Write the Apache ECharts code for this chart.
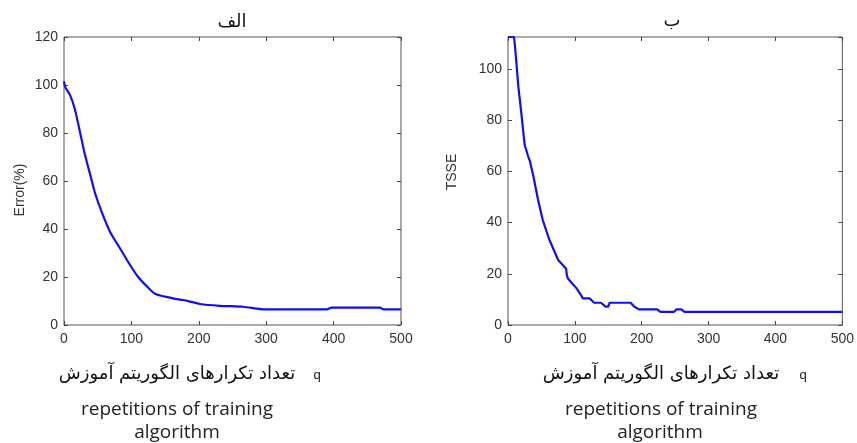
<!DOCTYPE html>
<html>
<head>
<meta charset="utf-8">
<script src="https://cdn.jsdelivr.net/npm/echarts@6/dist/echarts.min.js"></script>
<style>html,body{margin:0;padding:0;background:#fff;}#c{width:857px;height:443px;}</style>
</head>
<body>
<div id="c"></div>
<script>
// Panel A (الف): Error(%) vs repetitions
var iterA = [0, 2, 9, 16, 24, 31, 39, 46, 56, 68, 83, 98, 110, 125, 135, 150, 165, 177, 202, 231, 266, 298, 325, 390, 397, 469, 474, 500];
var errorA = [101.5, 99, 95.8, 90, 80, 71, 62.5, 55, 47, 39, 32, 25, 20, 15.5, 13, 11.8, 10.9, 10.4, 8.75, 8, 7.6, 6.5, 6.5, 6.5, 7.2, 7.2, 6.5, 6.5];
// Panel B (ب): TSSE vs repetitions
var iterB = [0, 9, 10.5, 13, 15.5, 19, 22, 25, 30, 33, 38, 45, 52, 62, 75, 87, 88, 89.5, 95, 102, 108, 112, 122, 129, 139, 146, 150, 152, 183.5, 188.5, 196, 223, 228, 248, 252, 259, 264, 500];
var tsseB = [112.5, 112.5, 108.7, 101, 93, 85, 77.5, 70.3, 66, 63.8, 58, 48.8, 41, 33.2, 25.4, 22, 19.5, 18.2, 16.5, 14.5, 12.2, 10.4, 10.4, 8.7, 8.7, 7.2, 7.2, 8.7, 8.7, 7.2, 6.1, 6.1, 5.1, 5.1, 6.1, 6.1, 5.1, 5.1];
var xTicks = [0, 100, 200, 300, 400, 500];
var yTicksA = [0, 20, 40, 60, 80, 100, 120];
var yTicksB = [0, 20, 40, 60, 80, 100];
var titleA = 'الف';
var titleB = 'ب';
var yNameA = 'Error(%)';
var yNameB = 'TSSE';
var captionFa = 'تعداد تکرارهای الگوریتم آموزش';
var captionMark = 'q';
var captionEn1 = 'repetitions of training';
var captionEn2 = 'algorithm';

function pairs(xs, ys) { return xs.map(function (x, i) { return [x, ys[i]]; }); }

var labelStyle = { color: '#333', fontSize: 14, fontFamily: 'Liberation Sans, Arial, sans-serif' };
var tick = { show: true, inside: true, length: 4, lineStyle: { color: '#444' } };

function xAx(gi, pos, showLabel) {
  return {
    type: 'value', gridIndex: gi, position: pos, min: 0, max: 500, interval: 100,
    axisLine: { show: false, onZero: false }, axisTick: tick, splitLine: { show: false },
    axisLabel: Object.assign({ show: showLabel, margin: 7 }, labelStyle)
  };
}
function yAx(gi, pos, max, showLabel) {
  return {
    type: 'value', gridIndex: gi, position: pos, min: 0, max: max, interval: 20,
    axisLine: { show: false, onZero: false }, axisTick: tick, splitLine: { show: false },
    axisLabel: Object.assign({ show: showLabel, margin: 6, showMaxLabel: max === 120 }, labelStyle)
  };
}

var chart = echarts.init(document.getElementById('c'));
chart.setOption({
  backgroundColor: '#fff',
  animation: false,
  grid: [
    { left: 64, top: 37, width: 337, height: 288, show: true, borderColor: '#555', borderWidth: 1, backgroundColor: 'transparent' },
    { left: 508, top: 37, width: 337, height: 288, show: true, borderColor: '#555', borderWidth: 1, backgroundColor: 'transparent' }
  ],
  xAxis: [xAx(0, 'bottom', true), xAx(0, 'top', false), xAx(1, 'bottom', true), xAx(1, 'top', false)],
  yAxis: [yAx(0, 'left', 120, true), yAx(0, 'right', 120, false), yAx(1, 'left', 112.5, true), yAx(1, 'right', 112.5, false)],
  series: [
    { type: 'line', xAxisIndex: 0, yAxisIndex: 0, data: pairs(iterA, errorA), showSymbol: false, smooth: 0.25,
      lineStyle: { color: '#1010ee', width: 2.2 } },
    { type: 'line', xAxisIndex: 2, yAxisIndex: 2, data: pairs(iterB, tsseB), showSymbol: false, smooth: false,
      lineStyle: { color: '#1010ee', width: 2.2 } }
  ],
  graphic: [
    { type: 'text', x: 232, y: 22, style: { text: titleA, font: '18px "DejaVu Sans"', fill: '#111', align: 'center', verticalAlign: 'middle' } },
    { type: 'text', x: 672, y: 21, style: { text: titleB, font: '18px "DejaVu Sans"', fill: '#111', align: 'center', verticalAlign: 'middle' } },
    { type: 'text', x: 20, y: 190, rotation: Math.PI / 2, style: { text: yNameA, font: '14px "Liberation Sans"', fill: '#333', align: 'center', verticalAlign: 'middle' } },
    { type: 'text', x: 452, y: 172, rotation: Math.PI / 2, style: { text: yNameB, font: '14px "Liberation Sans"', fill: '#333', align: 'center', verticalAlign: 'middle' } },
    { type: 'text', x: 177, y: 374, style: { text: captionFa, font: '18px "DejaVu Sans"', fill: '#111', align: 'center', verticalAlign: 'middle' } },
    { type: 'text', x: 317, y: 375, style: { text: captionMark, font: '13px "Liberation Sans"', fill: '#111', align: 'center', verticalAlign: 'middle' } },
    { type: 'text', x: 177, y: 410, style: { text: captionEn1, font: '19px "Open Sans"', fill: '#222', align: 'center', verticalAlign: 'middle' } },
    { type: 'text', x: 177, y: 433, style: { text: captionEn2, font: '19px "Open Sans"', fill: '#222', align: 'center', verticalAlign: 'middle' } },
    { type: 'text', x: 661, y: 374, style: { text: captionFa, font: '18px "DejaVu Sans"', fill: '#111', align: 'center', verticalAlign: 'middle' } },
    { type: 'text', x: 803, y: 375, style: { text: captionMark, font: '13px "Liberation Sans"', fill: '#111', align: 'center', verticalAlign: 'middle' } },
    { type: 'text', x: 661, y: 410, style: { text: captionEn1, font: '19px "Open Sans"', fill: '#222', align: 'center', verticalAlign: 'middle' } },
    { type: 'text', x: 660, y: 433, style: { text: captionEn2, font: '19px "Open Sans"', fill: '#222', align: 'center', verticalAlign: 'middle' } }
  ]
});
</script>
</body>
</html>
